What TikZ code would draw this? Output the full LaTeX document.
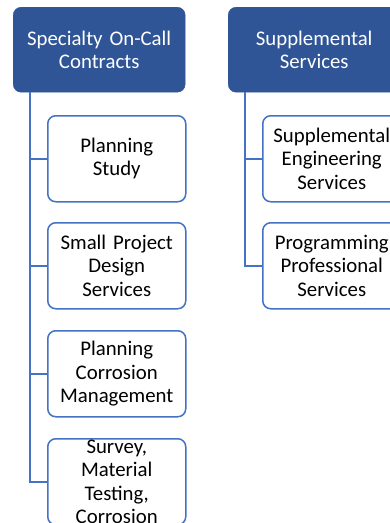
\documentclass[tikz,border=0pt]{standalone}
\usepackage{fontspec}
\setmainfont{Carlito}
\definecolor{hdrfill}{HTML}{2F5597}
\definecolor{linec}{HTML}{4472C4}
\tikzset{
  x=1pt, y=-1pt,
  hdr/.style={draw=hdrfill, fill=hdrfill, rounded corners=8pt, minimum width=172pt, minimum height=85pt,
    anchor=north west, inner sep=0pt, text width=168pt, align=center, text=white,
    font=\fontsize{20.8}{23.3}\selectfont},
  child/.style={draw=linec, line width=1.5pt, fill=white, rounded corners=8pt, minimum width=138pt, minimum height=86pt,
    anchor=north west, inner sep=0pt, text width=136pt, align=center, text=black,
    font=\fontsize{20.8}{23.3}\selectfont},
  conn/.style={draw=linec, line width=2pt}
}
\begin{document}
\begin{tikzpicture}
\useasboundingbox (0,0) rectangle (390,523);
\begin{scope}
\clip (0,0) rectangle (390,523);
\node[hdr] (h1) at (13,7) {Specialty On-Call\\Contracts};
\node[hdr] (h2) at (228,7) {Supplemental\\Services};
\coordinate (v1) at (30,92);
\coordinate (v2) at (245,92);
\node[child] (a1) at (47,115) {Planning\\Study};
\node[child] (a2) at (47,222) {Small Project\\Design\\Services};
\node[child] (a3) at (47,330) {Planning\\Corrosion\\Management};
\node[child] (a4) at (47,438) {Survey,\\Material\\Testing,\\Corrosion};
\node[child] (b1) at (262,115) {Supplemental\\Engineering\\Services};
\node[child] (b2) at (262,222) {Programming\\Professional\\Services};
\draw[conn] (v1) |- (a4.west);
\draw[conn] (v1 |- a1.west) -- (a1.west);
\draw[conn] (v1 |- a2.west) -- (a2.west);
\draw[conn] (v1 |- a3.west) -- (a3.west);
\draw[conn] (v2) |- (b2.west);
\draw[conn] (v2 |- b1.west) -- (b1.west);
\end{scope}
\end{tikzpicture}
\end{document}
